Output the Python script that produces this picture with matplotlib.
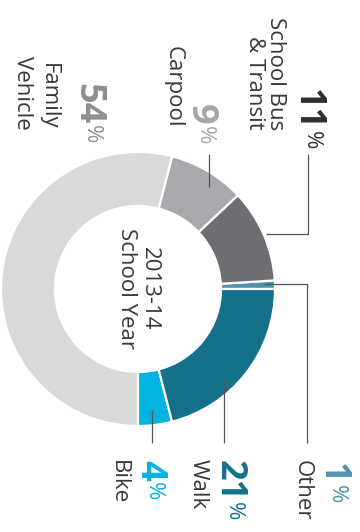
import matplotlib.pyplot as plt

plt.rcParams['font.family'] = ['Open Sans', 'DejaVu Sans']

modes = ["Other", "School Bus\n& Transit", "Carpool", "Family\nVehicle", "Bike", "Walk"]
shares = [1, 11, 9, 54, 4, 21]
wedge_colors = ["#4f93ae", "#6d6e71", "#a7a9ac", "#d9d9da", "#00b4e2", "#147189"]
number_colors = ["#4f93ae", "#2e2e2e", "#a3a5a8", "#8e8e8e", "#00b4e2", "#147189"]
center_text = "2013-14\nSchool Year"

LABEL_GREY = "#383838"
LINE_GREY = "#555555"

# figure is laid out in pixel units, y running downwards
# (number baseline x, number start y, last-line baseline x, label y, anchor, line spacing)
label_layout = {
    "Other": (323, 463, 297, 460, "left", 1.0),
    "School Bus\n& Transit": (298, 89, 249, 130, "right", 1.0),
    "Carpool": (191, 104, 168, 128, "right", 1.0),
    "Family\nVehicle": (78, 83, 22, 130, "right", 1.34),
    "Bike": (140, 460, 113, 460, "left", 1.0),
    "Walk": (220, 460, 193, 459, "left", 1.0),
}

leaders = {
    "Other": [(264, 284), (307, 284), (307, 443)],
    "School Bus\n& Transit": [(266, 234), (308, 234), (308, 154)],
    "Carpool": [(209, 187), (209, 154)],
    "Bike": [(152, 410), (152, 443)],
    "Walk": [(224, 380), (224, 443)],
}


def main():
    fig = plt.figure(figsize=(3.6, 5.32), dpi=100)
    ax = fig.add_axes([0, 0, 1, 1])

    # y axis is flipped, so clockwise in data reads counter-clockwise on screen
    ax.pie(shares, colors=wedge_colors, radius=137, center=(138, 289),
           startangle=0, counterclock=False,
           wedgeprops=dict(width=54, edgecolor="white", linewidth=1.6))

    ax.set_xlim(0, 360)
    ax.set_ylim(532, 0)
    ax.set_aspect("equal")
    ax.axis("off")

    ax.text(138, 289, center_text, rotation=270, rotation_mode="anchor",
            ha="center", va="center", multialignment="center",
            fontsize=16, color=LABEL_GREY, linespacing=1.17)

    for mode, share, ncol in zip(modes, shares, number_colors):
        nx, ny, lx, ly, anchor, spacing = label_layout[mode]
        num = ax.text(nx, ny, str(share), rotation=270, rotation_mode="anchor",
                      ha="left", va="baseline", fontsize=26,
                      fontweight="bold", color=ncol)
        ax.annotate("%", xy=(1, 0), xycoords=num, xytext=(-3, -1),
                    textcoords="offset pixels", rotation=270,
                    rotation_mode="anchor", ha="left", va="top",
                    fontsize=16, color=ncol)
        ax.text(lx, ly, mode, rotation=270, rotation_mode="anchor",
                ha=anchor, va="baseline", multialignment=anchor,
                fontsize=16, color=LABEL_GREY, linespacing=spacing)

    for pts in leaders.values():
        xs, ys = zip(*pts)
        ax.plot(xs, ys, color=LINE_GREY, linewidth=0.9,
                solid_capstyle="butt")

    fig.savefig("out.png", dpi=100)


if __name__ == "__main__":
    main()
